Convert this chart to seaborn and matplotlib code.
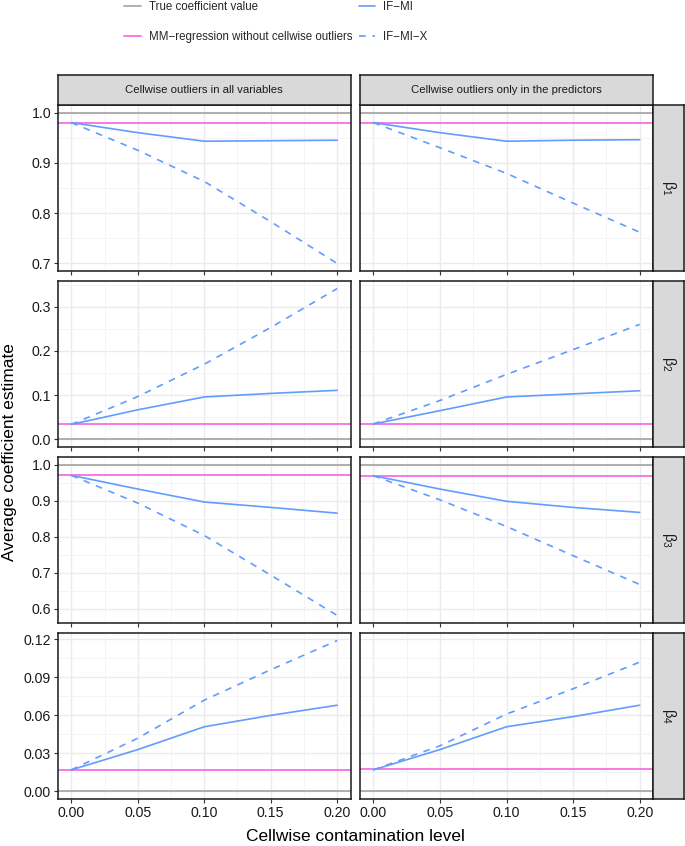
import matplotlib
matplotlib.use("Agg")
import numpy as np
import pandas as pd
import matplotlib.pyplot as plt
import seaborn as sns
from matplotlib.lines import Line2D
from matplotlib.ticker import MultipleLocator, FormatStrFormatter

# Data
contamination = [0.00, 0.05, 0.10, 0.15, 0.20]
scenarios = ["Cellwise outliers in all variables", "Cellwise outliers only in the predictors"]
coef_labels = [r"$\mathregular{\beta_1}$", r"$\mathregular{\beta_2}$",
               r"$\mathregular{\beta_3}$", r"$\mathregular{\beta_4}$"]
methods = ["IF\u2212MI", "IF\u2212MI\u2212X"]

true_coef = [1.0, 0.0, 1.0, 0.0]
mm_all = [0.980, 0.034, 0.970, 0.017]
mm_pred = [0.980, 0.035, 0.969, 0.018]

# IF-MI, all variables contaminated (one list per coefficient)
ifmi_all = [
    [0.980, 0.960, 0.943, 0.944, 0.945],
    [0.034, 0.067, 0.096, 0.104, 0.111],
    [0.970, 0.932, 0.896, 0.881, 0.865],
    [0.017, 0.033, 0.051, 0.060, 0.068],
]
# IF-MI-X, all variables contaminated
ifmix_all = [
    [0.980, 0.925, 0.863, 0.783, 0.700],
    [0.034, 0.097, 0.170, 0.253, 0.341],
    [0.970, 0.893, 0.803, 0.693, 0.581],
    [0.017, 0.042, 0.072, 0.096, 0.119],
]
# IF-MI, only predictors contaminated
ifmi_pred = [
    [0.980, 0.960, 0.943, 0.945, 0.946],
    [0.035, 0.065, 0.096, 0.103, 0.110],
    [0.969, 0.932, 0.898, 0.881, 0.867],
    [0.017, 0.033, 0.051, 0.059, 0.068],
]
# IF-MI-X, only predictors contaminated
ifmix_pred = [
    [0.980, 0.930, 0.879, 0.820, 0.762],
    [0.035, 0.088, 0.147, 0.203, 0.260],
    [0.969, 0.902, 0.828, 0.747, 0.667],
    [0.017, 0.036, 0.061, 0.081, 0.102],
]

tick_steps = [0.1, 0.1, 0.1, 0.03]
tick_decimals = [1, 1, 1, 2]

# long table for seaborn
rows = []
for s, (mi, mix) in enumerate([(ifmi_all, ifmix_all), (ifmi_pred, ifmix_pred)]):
    for c in range(4):
        for m, vals in zip(methods, [mi[c], mix[c]]):
            for x, v in zip(contamination, vals):
                rows.append({"scenario": s, "coef": c, "method": m,
                             "contamination": x, "estimate": v})
df = pd.DataFrame(rows)

sns.set_theme(style="white")
plt.rcParams["font.family"] = ["Liberation Sans", "DejaVu Sans"]

GRAY = "#A3A3A3"
PINK = "#F564E3"
BLUE = "#619CFF"
DARK = "#333333"

W, H = 685, 846
fig = plt.figure(figsize=(W / 100, H / 100), dpi=100)

def fx(px):
    return px / W

def fy(px):
    return 1 - px / H

col_x = [(58, 350.5), (360, 653)]
row_y = [(105, 271), (281, 447), (457, 623), (633, 799)]
mm_vals = [mm_all, mm_pred]

for r in range(4):
    vals = df[df.coef == r].estimate.tolist() + [true_coef[r], mm_all[r], mm_pred[r]]
    lo, hi = min(vals), max(vals)
    pad = 0.05 * (hi - lo)
    for c in range(2):
        x0, x1 = col_x[c]
        y0, y1 = row_y[r]
        ax = fig.add_axes([fx(x0), fy(y1), fx(x1 - x0), (y1 - y0) / H])
        ax.axhline(true_coef[r], color=GRAY, lw=1.2, zorder=2)
        ax.axhline(mm_vals[c][r], color=PINK, lw=1.2, zorder=2)
        sub = df[(df.scenario == c) & (df.coef == r)]
        sns.lineplot(data=sub, x="contamination", y="estimate", style="method",
                     style_order=methods, dashes={methods[0]: "", methods[1]: (4, 4)},
                     color=BLUE, lw=1.2, legend=False, ax=ax, zorder=3)
        ax.set_xlim(-0.01, 0.21)
        ax.set_ylim(lo - pad, hi + pad)
        ax.xaxis.set_major_locator(MultipleLocator(0.05))
        ax.xaxis.set_minor_locator(MultipleLocator(0.025))
        ax.yaxis.set_major_locator(MultipleLocator(tick_steps[r]))
        ax.yaxis.set_minor_locator(MultipleLocator(tick_steps[r] / 2))
        ax.yaxis.set_major_formatter(FormatStrFormatter("%%.%df" % tick_decimals[r]))
        ax.xaxis.set_major_formatter(FormatStrFormatter("%.2f"))
        ax.grid(which="major", color="#EBEBEB", lw=1.0, zorder=0)
        ax.grid(which="minor", color="#F4F4F4", lw=0.7, zorder=0)
        ax.set_axisbelow(True)
        ax.tick_params(which="major", direction="out", length=3, width=0.8,
                       color=DARK, labelsize=10.2, labelcolor="#1A1A1A", pad=2)
        ax.tick_params(which="minor", length=0)
        ax.tick_params(axis="x", bottom=True, labelbottom=(r == 3))
        ax.tick_params(axis="y", left=(c == 0), labelleft=(c == 0))
        ax.set_xlabel("")
        ax.set_ylabel("")
        for sp in ax.spines.values():
            sp.set_color("#1A1A1A")
            sp.set_linewidth(1.1)

# column strips
for c in range(2):
    x0, x1 = col_x[c]
    sax = fig.add_axes([fx(x0), fy(105), fx(x1 - x0), 30 / H])
    sax.set_facecolor("#D9D9D9")
    sax.set_xticks([])
    sax.set_yticks([])
    for sp in sax.spines.values():
        sp.set_color("#1A1A1A")
        sp.set_linewidth(1.1)
    sax.text(0.5, 0.5, scenarios[c], ha="center", va="center", fontsize=8.2,
             color="#1A1A1A", transform=sax.transAxes)

# row strips
for r in range(4):
    y0, y1 = row_y[r]
    sax = fig.add_axes([fx(653), fy(y1), fx(31), (y1 - y0) / H])
    sax.set_facecolor("#D9D9D9")
    sax.set_xticks([])
    sax.set_yticks([])
    for sp in sax.spines.values():
        sp.set_color("#1A1A1A")
        sp.set_linewidth(1.1)
    sax.text(0.5, 0.5, coef_labels[r], ha="center", va="center", fontsize=10.5,
             rotation=-90, color="#1A1A1A", transform=sax.transAxes)

fig.text(fx((58 + 653) / 2), fy(836), "Cellwise contamination level",
         ha="center", va="center", fontsize=12.5, color="black")
fig.text(fx(10), fy(452), "Average coefficient estimate", ha="center",
         va="center", rotation=90, fontsize=12.5, color="black")

handles = [
    Line2D([], [], color=GRAY, lw=1.2),
    Line2D([], [], color=PINK, lw=1.2),
    Line2D([], [], color=BLUE, lw=1.2),
    Line2D([], [], color=BLUE, lw=1.2, dashes=(4, 4)),
]
labels = ["True coefficient value", "MM\u2212regression without cellwise outliers",
          methods[0], methods[1]]
fig.legend(handles, labels, ncol=2, loc="upper left",
           bbox_to_anchor=(fx(124), fy(1)), frameon=False, fontsize=8.3,
           borderpad=0, borderaxespad=0, handlelength=1.45, handletextpad=0.7,
           columnspacing=0.55, labelspacing=1.55)

fig.savefig("out.png", dpi=100)
